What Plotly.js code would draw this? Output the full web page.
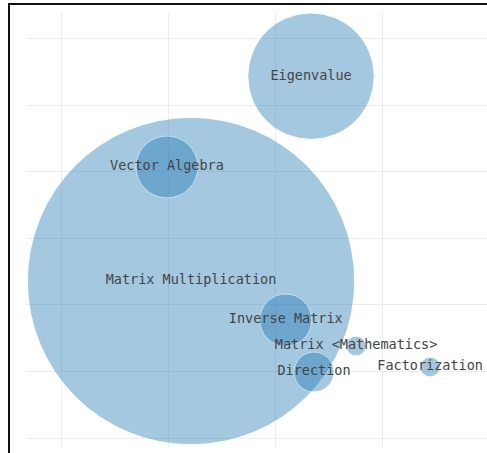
<!DOCTYPE html>
<html>
<head>
<meta charset="utf-8">
<script src="https://cdn.plot.ly/plotly-3.0.1.min.js"></script>
<style>
  html, body { margin: 0; padding: 0; overflow: hidden; background: #fff; }
  #frame { position: absolute; left: 8px; top: 3px; border: 2px solid #111; width: 600px; height: 470px; }
  #chart { width: 600px; height: 470px; }
</style>
</head>
<body>
<div id="frame"><div id="chart"></div></div>
<script>
const labels = ["Matrix Multiplication", "Eigenvalue", "Vector Algebra", "Inverse Matrix", "Matrix <Mathematics>", "Direction", "Factorization"];
const xValues = [1.215, 2.336, 0.99, 2.10, 2.757, 2.364, 3.449];
const yValues = [2.36, 5.44, 4.075, 1.774, 1.383, 0.992, 1.068];
const sizeValues = [268, 40, 9.6, 6.8, 1, 4, 1];

const escaped = labels.map(s => s.replace(/</g, "&lt;").replace(/>/g, "&gt;"));

const trace = {
  type: "scatter",
  mode: "markers+text",
  x: xValues,
  y: yValues,
  text: escaped,
  textposition: "middle center",
  textfont: { family: "DejaVu Sans Mono, monospace", size: 13.5, color: "#444" },
  marker: {
    size: sizeValues,
    sizemode: "area",
    sizeref: 0.005,
    color: "#1f77b4",
    opacity: 0.4,
    line: { color: "#ffffff", width: 1 }
  },
  hoverinfo: "text"
};

const layout = {
  width: 600,
  height: 470,
  margin: { l: 16, r: 16, t: 8, b: 28 },
  paper_bgcolor: "#ffffff",
  plot_bgcolor: "#ffffff",
  showlegend: false,
  xaxis: {
    range: [-0.327, 4.98],
    dtick: 1, tick0: 0,
    showticklabels: false,
    zeroline: false,
    showline: false,
    gridcolor: "#ececec",
    gridwidth: 1
  },
  yaxis: {
    range: [-0.135, 6.39],
    dtick: 1, tick0: 0,
    showticklabels: false,
    zeroline: false,
    showline: false,
    gridcolor: "#ececec",
    gridwidth: 1
  }
};

Plotly.newPlot("chart", [trace], layout, { displayModeBar: false, staticPlot: true });
</script>
</body>
</html>
